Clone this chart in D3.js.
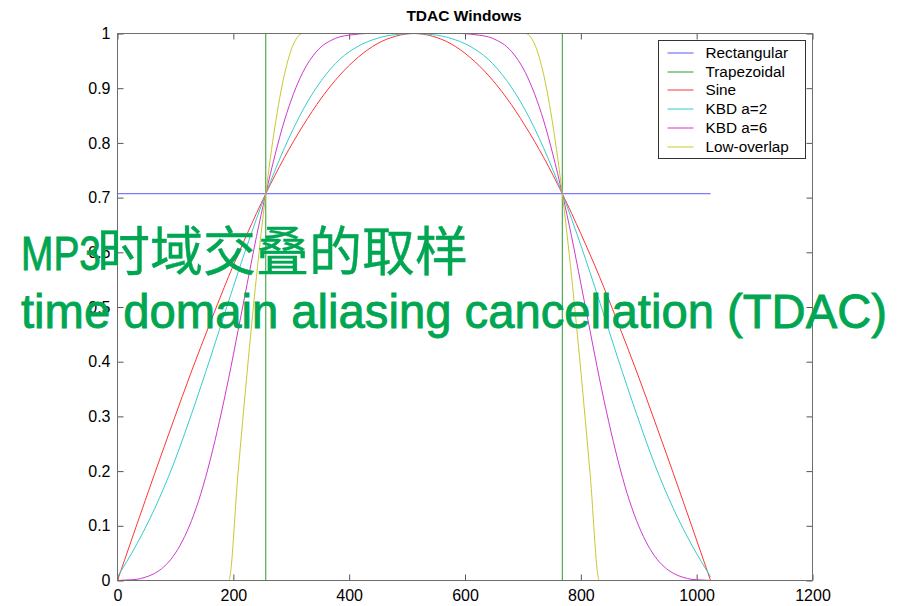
<!DOCTYPE html>
<html>
<head>
<meta charset="utf-8">
<script src="https://cdn.jsdelivr.net/npm/d3@7/dist/d3.min.js"></script>
<style>
  body { margin: 0; background: #fff; }
  svg { display: block; font-family: "Liberation Sans", Arial, sans-serif; }
</style>
</head>
<body>
<div id="chart"></div>
<script>
// values (window sample index n, window value)
const seriesNames = ['Rectangular', 'Trapezoidal', 'Sine', 'KBD a=2', 'KBD a=6', 'Low-overlap'];
const seriesColors = ['#5a5aff', '#2f9a2f', '#ff3535', '#35cccc', '#cc3acc', '#c8c832'];

const rectN = [0, 1024];
const rectV = [0.7071, 0.7071];

const trapN = [0, 256, 256, 768, 768, 1024];
const trapV = [0, 0, 1, 1, 0, 0];

// n = 0, 32, ... 1024
const step32N = [0,32,64,96,128,160,192,224,256,288,320,352,384,416,448,480,512,
  544,576,608,640,672,704,736,768,800,832,864,896,928,960,992,1024];
const sineV = [0, 0.098, 0.195, 0.290, 0.383, 0.471, 0.556, 0.634, 0.707, 0.773, 0.831, 0.882, 0.924, 0.957, 0.981, 0.995, 1.000,
  0.995, 0.981, 0.957, 0.924, 0.882, 0.831, 0.773, 0.707, 0.634, 0.556, 0.471, 0.383, 0.290, 0.195, 0.098, 0];
const kbd2V = [0.007, 0.064, 0.131, 0.211, 0.305, 0.406, 0.511, 0.613, 0.707, 0.790, 0.860, 0.914, 0.953, 0.977, 0.991, 0.998, 1.000,
  0.998, 0.991, 0.977, 0.953, 0.914, 0.860, 0.790, 0.707, 0.613, 0.511, 0.406, 0.305, 0.211, 0.131, 0.064, 0.007];

// n = 0, 16, ... 1024
const step16N = [0,16,32,48,64,80,96,112,128,144,160,176,192,208,224,240,256,272,288,304,320,336,352,368,384,400,416,432,448,464,480,496,512,
  528,544,560,576,592,608,624,640,656,672,688,704,720,736,752,768,784,800,816,832,848,864,880,896,912,928,944,960,976,992,1008,1024];
const kbd6V = [0, 0.001, 0.002, 0.006, 0.013, 0.025, 0.044, 0.072, 0.110, 0.159, 0.220, 0.291, 0.370, 0.456, 0.543, 0.629, 0.707,
  0.778, 0.840, 0.890, 0.929, 0.957, 0.976, 0.987, 0.994, 0.997, 0.999, 1, 1, 1, 1, 1, 1,
  1, 1, 1, 1, 1, 0.999, 0.997, 0.994, 0.987, 0.976, 0.957, 0.929, 0.890, 0.840, 0.778,
  0.707, 0.629, 0.543, 0.456, 0.370, 0.291, 0.220, 0.159, 0.110, 0.072, 0.044, 0.025, 0.013, 0.006, 0.002, 0.001, 0];

const lowN = [0, 192, 208, 224, 240, 256, 272, 288, 304, 320, 704, 720, 736, 752, 768, 784, 800, 816, 832, 1024];
const lowV = [0, 0, 0.195, 0.383, 0.556, 0.707, 0.831, 0.924, 0.981, 1, 1, 0.981, 0.924, 0.831, 0.707, 0.556, 0.383, 0.195, 0, 0];

const xTicks = [0, 200, 400, 600, 800, 1000, 1200];
const yTicks = [0, 0.1, 0.2, 0.3, 0.4, 0.5, 0.6, 0.7, 0.8, 0.9, 1];
const yTickLabels = ['0', '0.1', '0.2', '0.3', '0.4', '0.5', '0.6', '0.7', '0.8', '0.9', '1'];

const title = 'TDAC Windows';
const overlayLatin = 'MP3';
const overlayCJK = '时域交叠的取样';
const overlayLine2 = 'time domain aliasing cancellation (TDAC)';

const W = 898, H = 606;
const m = {t:33, r:86, b:26, l:117};
const w = W - m.l - m.r;
const h = H - m.t - m.b;

const svg = d3.select('#chart')
  .append('svg')
  .attr('width', W)
  .attr('height', H);

const x = d3.scaleLinear().domain([0, 1200]).range([0, w]);
const y = d3.scaleLinear().domain([0, 1]).range([h, 0]);

// half pixel offset keeps the 1px frame and ticks crisp
const plot = svg.append('g')
  .attr('class', 'plot')
  .attr('transform', `translate(${m.l + 0.5}, ${m.t + 0.5})`);

// axes, matlab style: ticks pointing in, box all round
const axisColor = '#555';

plot.append('g')
  .attr('transform', `translate(0, ${h})`)
  .call(d3.axisBottom(x).tickValues(xTicks).tickSizeInner(-6).tickSizeOuter(0).tickPadding(9)
    .tickFormat(d3.format('d')));
plot.append('g')
  .call(d3.axisLeft(y).tickValues(yTicks).tickSizeInner(-6).tickSizeOuter(0).tickPadding(7)
    .tickFormat((d, i) => yTickLabels[i]));
plot.append('g')
  .call(d3.axisTop(x).tickValues(xTicks).tickSizeInner(-6).tickSizeOuter(0).tickFormat(''));
plot.append('g')
  .attr('transform', `translate(${w}, 0)`)
  .call(d3.axisRight(y).tickValues(yTicks).tickSizeInner(-6).tickSizeOuter(0).tickFormat(''));

plot.selectAll('.domain').remove();
plot.selectAll('.tick line').attr('stroke', axisColor);
plot.selectAll('.tick text')
  .attr('fill', '#000')
  .style('font-size', '16px')
  .style('font-family', '"Liberation Sans", Arial, sans-serif');

// lines
const series = [
  {n: rectN, v: rectV, curve: d3.curveLinear},
  {n: trapN, v: trapV, curve: d3.curveLinear},
  {n: step32N, v: sineV, curve: d3.curveMonotoneX},
  {n: step32N, v: kbd2V, curve: d3.curveMonotoneX},
  {n: step16N, v: kbd6V, curve: d3.curveMonotoneX},
  {n: lowN, v: lowV, curve: d3.curveMonotoneX}
];

series.forEach(function(s, i){
  const pts = s.n.map((n, j) => [n, s.v[j]]);
  const line = d3.line()
    .x(d => x(d[0]))
    .y(d => y(d[1]))
    .curve(s.curve);
  plot.append('path')
    .datum(pts)
    .attr('d', line)
    .attr('fill', 'none')
    .attr('stroke', seriesColors[i])
    .attr('stroke-width', 1);
});

plot.append('rect')
  .attr('width', w)
  .attr('height', h)
  .attr('fill', 'none')
  .attr('stroke', '#6e6e6e')
  .attr('stroke-width', 1);

// legend
const lg = svg.append('g').attr('transform', 'translate(658.5, 40.5)');
lg.append('rect')
  .attr('width', 147)
  .attr('height', 118)
  .attr('fill', '#fff')
  .attr('stroke', '#333')
  .attr('stroke-width', 1);

const items = lg.selectAll('.item')
  .data(seriesNames)
  .enter()
  .append('g')
  .attr('class', 'item')
  .attr('transform', (d, i) => `translate(0, ${12.5 + Math.round(i * 18.7)})`);
items.append('line')
  .attr('x1', 9).attr('x2', 35)
  .attr('stroke', (d, i) => seriesColors[i]);
items.append('text')
  .attr('x', 47)
  .attr('dy', '0.35em')
  .style('font-size', '15.3px')
  .text(d => d);

// title
svg.append('text')
  .attr('x', 464)
  .attr('y', 21)
  .attr('text-anchor', 'middle')
  .style('font-size', '15.5px')
  .style('font-weight', 'bold')
  .text(title);

// big green overlay text
const green = '#00a651';
const overlay = svg.append('g')
  .attr('fill', green)
  .attr('stroke', green)
  .attr('stroke-width', 0.9);
overlay.append('text')
  .attr('x', 21)
  .attr('y', 270)
  .attr('textLength', 80)
  .attr('lengthAdjust', 'spacingAndGlyphs')
  .style('font-size', '48px')
  .text(overlayLatin);
overlay.append('text')
  .attr('x', 97)
  .attr('y', 271)
  .attr('stroke-width', 0.4)
  .style('font-size', '53px')
  .style('font-family', '"Noto Sans CJK SC", sans-serif')
  .text(overlayCJK);
overlay.append('text')
  .attr('x', 21)
  .attr('y', 328)
  .attr('textLength', 866)
  .attr('lengthAdjust', 'spacingAndGlyphs')
  .style('font-size', '48px')
  .text(overlayLine2);
</script>
</body>
</html>
